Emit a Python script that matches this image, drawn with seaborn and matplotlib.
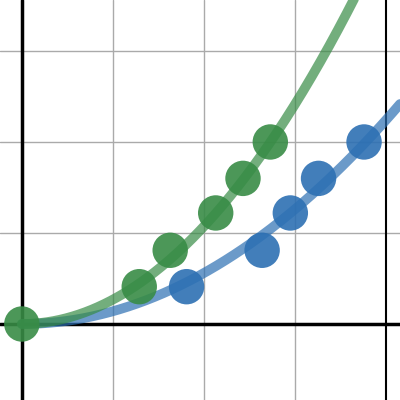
import numpy as np
import matplotlib
matplotlib.use("Agg")
import matplotlib.pyplot as plt
import seaborn as sns

green_x = [0, 1.29, 1.63, 2.13, 2.43, 2.73]
green_y = [0, 0.41, 0.81, 1.22, 1.60, 2.00]
blue_x = [1.81, 2.64, 2.95, 3.26, 3.76]
blue_y = [0.41, 0.81, 1.22, 1.60, 2.00]
green_a = 0.268
blue_a = 0.14

sns.set_style("white")
fig = plt.figure(figsize=(4, 4), dpi=100)
ax = fig.add_axes([0, 0, 1, 1])
xmin, xmax, ymin, ymax = -0.24, 4.155, -0.835, 3.56
ax.set_xlim(xmin, xmax); ax.set_ylim(ymin, ymax)
for v in [1, 2, 3]:
    ax.axvline(v, color="#aaaaaa", lw=1, zorder=0)
for v in [1, 2, 3]:
    ax.axhline(v, color="#aaaaaa", lw=1, zorder=0)
ax.axvline(0, color="black", lw=2.5, zorder=1)
ax.axvline(4, color="black", lw=1.5, zorder=1)
ax.axhline(0, color="black", lw=2.5, zorder=1)

xs = np.linspace(0, xmax, 300)
sns.lineplot(x=xs, y=blue_a * xs**2, ax=ax, color="#2d70b3", lw=7, alpha=0.7, zorder=2)
sns.lineplot(x=xs, y=green_a * xs**2, ax=ax, color="#388c46", lw=7, alpha=0.7, zorder=2)
sns.scatterplot(x=blue_x, y=blue_y, ax=ax, color="#2d70b3", s=650, alpha=0.9, edgecolor="none", zorder=3)
sns.scatterplot(x=green_x, y=green_y, ax=ax, color="#388c46", s=650, alpha=0.9, edgecolor="none", zorder=4)
ax.set_xticks([]); ax.set_yticks([])
for s in ax.spines.values():
    s.set_visible(False)
fig.savefig("out.png", dpi=100)
